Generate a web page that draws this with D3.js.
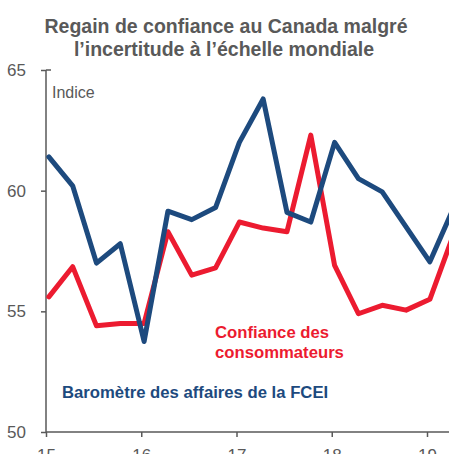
<!DOCTYPE html>
<html>
<head>
<meta charset="utf-8">
<script src="https://cdn.jsdelivr.net/npm/d3@7"></script>
<style>
  html, body { margin: 0; padding: 0; background: #fff; }
  svg { display: block; font-family: "Liberation Sans", Arial, sans-serif; }
</style>
</head>
<body>
<svg id="chart" width="449" height="454"></svg>
<script>
// Quarterly observations, 2015T1 .. 2019T2
const quarters = ["2015T1","2015T2","2015T3","2015T4","2016T1","2016T2","2016T3","2016T4",
                  "2017T1","2017T2","2017T3","2017T4","2018T1","2018T2","2018T3","2018T4",
                  "2019T1","2019T2"];
const barometreFCEI = [61.4, 60.2, 57.0, 57.8, 53.75, 59.15, 58.8, 59.3,
                       62.0, 63.8, 59.1, 58.7, 62.0, 60.5, 59.95, 58.5,
                       57.05, 59.3];
const confianceConso = [55.6, 56.85, 54.4, 54.5, 54.5, 58.3, 56.5, 56.8,
                        58.7, 58.45, 58.3, 62.3, 56.9, 54.9, 55.25, 55.05,
                        55.5, 58.2];
const yTicks = [50, 55, 60, 65];
const xTickValues = [2015, 2016, 2017, 2018, 2019];
const xTickLabels = ["15", "16", "17", "18", "19"];

const grey = "#595959";
const blue = "#1d4a7e";
const red = "#ec1b30";

const svg = d3.select("#chart");
const W = 449, H = 454;

// decimal time of each quarter
const tOf = q => +q.slice(0, 4) + (+q.slice(5) - 1) / 4 + 0.03;

const x = d3.scaleLinear().domain([2015, 2019]).range([46, 427]);
const y = d3.scaleLinear().domain([50, 65]).range([432, 70]);

// Title
const title = svg.append("text")
  .attr("text-anchor", "middle")
  .attr("fill", grey).attr("font-weight", "bold").attr("font-size", "19.5px");
title.append("tspan").attr("x", 226).attr("y", 33).text("Regain de confiance au Canada malgré");
title.append("tspan").attr("x", 224).attr("y", 56).text("l’incertitude à l’échelle mondiale");

// clip
svg.append("clipPath").attr("id", "clip")
  .append("rect").attr("x", 0).attr("y", 0).attr("width", W).attr("height", H);

// Y axis
const yAxis = d3.axisLeft(y).tickValues(yTicks).tickSize(5).tickPadding(15).tickFormat(d3.format("d"));
const gy = svg.append("g").attr("transform", "translate(46,0)").call(yAxis);
gy.select(".domain").remove();
gy.selectAll(".tick line").attr("stroke", grey).attr("stroke-width", 1.5);
gy.selectAll(".tick text").attr("fill", grey).attr("font-size", "17px")
  .attr("font-family", "Liberation Sans, Arial, sans-serif");
svg.append("line").attr("x1", 46).attr("x2", 46).attr("y1", y(65)).attr("y2", y(50))
  .attr("stroke", grey).attr("stroke-width", 1.5);
svg.append("line").attr("x1", 46).attr("x2", 51).attr("y1", y(65)).attr("y2", y(65))
  .attr("stroke", grey).attr("stroke-width", 1.5);

// X axis
const xAxis = d3.axisBottom(x).tickValues(xTickValues).tickSize(5).tickPadding(12)
  .tickFormat((d, i) => xTickLabels[i]);
const gx = svg.append("g").attr("transform", `translate(0,${y(50)})`).call(xAxis);
gx.select(".domain").remove();
gx.selectAll(".tick line").attr("stroke", grey).attr("stroke-width", 1.5);
gx.selectAll(".tick text").attr("fill", grey).attr("font-size", "17px")
  .attr("font-family", "Liberation Sans, Arial, sans-serif");
svg.append("line").attr("x1", 46).attr("x2", W).attr("y1", y(50)).attr("y2", y(50))
  .attr("stroke", grey).attr("stroke-width", 1.5);

// Lines
const line = vals => d3.line().x((d, i) => x(tOf(quarters[i]))).y(d => y(d))(vals);
const plot = svg.append("g").attr("clip-path", "url(#clip)");
plot.append("path").attr("d", line(confianceConso))
  .attr("fill", "none").attr("stroke", red).attr("stroke-width", 5)
  .attr("stroke-linejoin", "round").attr("stroke-linecap", "round");
plot.append("path").attr("d", line(barometreFCEI))
  .attr("fill", "none").attr("stroke", blue).attr("stroke-width", 5)
  .attr("stroke-linejoin", "round").attr("stroke-linecap", "round");

// Labels
svg.append("text").attr("x", 52).attr("y", 98).attr("fill", grey)
  .attr("font-size", "16px").text("Indice");

const rl = svg.append("text").attr("fill", red).attr("font-weight", "bold").attr("font-size", "16.7px");
rl.append("tspan").attr("x", 215).attr("y", 338).text("Confiance des");
rl.append("tspan").attr("x", 215).attr("y", 358).text("consommateurs");

svg.append("text").attr("x", 62).attr("y", 398).attr("fill", blue)
  .attr("font-weight", "bold").attr("font-size", "16.7px")
  .text("Baromètre des affaires de la FCEI");
</script>
</body>
</html>
